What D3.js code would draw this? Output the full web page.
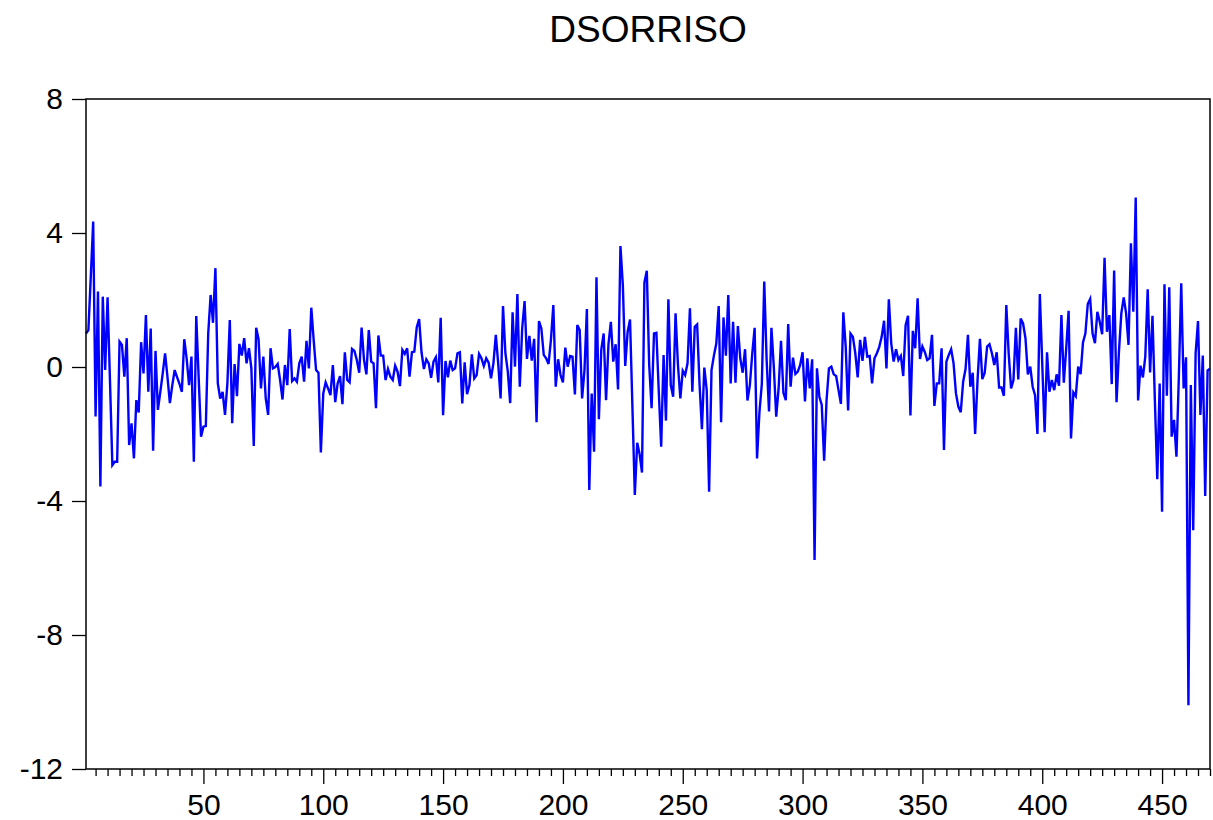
<!DOCTYPE html>
<html>
<head>
<meta charset="utf-8">
<script src="https://cdn.jsdelivr.net/npm/d3@7"></script>
<style>
  body { margin: 0; background: #fff; }
  svg text { font-family: "Liberation Sans", Arial, sans-serif; }
</style>
</head>
<body>
<svg id="chart" width="1213" height="820"></svg>
<script>
const seriesName = "DSORRISO";
const dsorriso = [
  1.0, 1.1, 2.7, 4.34, -1.48, 2.25, -3.57, 2.1, -0.09, 2.08,
  -0.4, -2.93, -2.83, -2.83, 0.76, 0.66, -0.29, 0.86, -2.33, -1.68,
  -2.73, -0.99, -1.36, 0.74, -0.19, 1.55, -0.74, 1.15, -2.5, 0.48,
  -1.28, -0.75, -0.2, 0.41, -0.3, -1.08, -0.55, -0.09, -0.3, -0.5,
  -0.74, 0.83, 0.25, -0.54, 0.31, -2.83, 1.52, -0.3, -2.08, -1.78,
  -1.76, 1.0, 2.15, 1.32, 2.95, -0.49, -0.94, -0.74, -1.43, -0.49,
  1.4, -1.68, 0.09, -0.87, 0.69, 0.34, 0.86, 0.11, 0.56, -0.04,
  -2.36, 1.17, 0.83, -0.64, 0.31, -0.94, -1.43, 0.56, -0.04, 0.0,
  0.09, -0.4, -0.97, 0.06, -0.54, 1.13, -0.42, -0.34, -0.44, 0.11,
  0.31, -0.44, 0.78, -0.04, 1.77, 0.8, -0.09, -0.17, -2.55, -0.79,
  -0.46, -0.64, -0.84, 0.06, -1.05, -0.49, -0.27, -1.11, 0.44, -0.39,
  -0.46, 0.54, 0.48, 0.21, -0.17, 1.18, 0.21, -0.22, 1.1, 0.16,
  0.11, -1.23, 0.94, 0.34, 0.34, -0.39, -0.06, -0.29, -0.39, 0.04,
  -0.14, -0.57, 0.51, 0.39, 0.56, -0.29, 0.44, 0.46, 1.18, 1.43,
  0.44, -0.06, 0.23, 0.11, -0.32, 0.16, 0.29, -0.46, 1.47, -1.44,
  0.18, -0.31, 0.19, -0.09, -0.04, 0.41, 0.44, -1.09, 0.14, -0.81,
  -0.54, 0.38, -0.34, -0.24, 0.39, 0.26, 0.03, 0.26, 0.13, -0.34,
  0.11, 0.96, 0.1, -0.94, 1.82, 0.41, -0.14, -1.08, 1.63, 0.01,
  2.18, -0.59, 1.15, 1.97, 0.24, 0.93, 0.19, 0.84, -1.65, 1.37,
  1.15, 0.36, 0.26, 0.09, 0.81, 1.85, -0.59, 0.23, -0.24, -0.46,
  0.58, 0.01, 0.33, 0.31, -0.82, 1.25, 1.1, -0.94, -0.09, 1.73,
  -3.67, -0.79, -2.53, 2.68, -1.56, 0.51, 1.0, -0.99, 0.68, 1.35,
  0.16, 0.68, -0.67, 3.61, 2.45, 0.03, 1.05, 1.42, -1.2, -3.82,
  -2.26, -2.6, -3.15, 2.52, 2.87, 0.06, -1.23, 1.0, 1.02, -0.74,
  -2.38, 0.36, -1.6, 2.02, -0.54, -0.89, 1.6, 0.06, -0.94, -0.11,
  -0.24, 0.11, 1.75, -0.74, 1.2, 1.27, -0.5, -1.86, -0.02, -0.69,
  -3.72, -0.09, 0.34, 0.7, 1.82, -1.65, 1.48, 0.34, 2.15, -0.49,
  1.35, -0.47, 1.22, 0.26, -0.17, 0.53, -1.0, -0.54, 0.4, 1.17,
  -2.73, -1.35, -0.5, 2.55, 0.21, -1.33, 1.17, 0.0, -1.48, -0.64,
  0.78, -0.77, -0.99, 1.28, -0.59, 0.28, -0.21, -0.14, 0.06, 0.44,
  -1.03, 0.26, -0.64, 0.23, -5.76, -0.04, -0.89, -1.13, -2.8, -1.0,
  -0.04, 0.01, -0.22, -0.27, -0.69, -1.1, 1.63, 0.6, -1.3, 1.0,
  0.9, 0.41, -0.31, 0.81, 0.18, 0.9, 0.31, 0.33, -0.49, 0.26,
  0.41, 0.6, 0.9, 1.38, -0.04, 2.02, 0.7, 0.16, 0.53, 0.21,
  0.33, -0.27, 1.25, 1.53, -1.45, 1.08, 0.56, 2.05, 0.24, 0.61,
  0.45, 0.21, 0.26, 0.96, -1.16, -0.49, -0.49, 0.56, -2.48, 0.16,
  0.36, 0.53, 0.11, -0.79, -1.18, -1.35, -0.44, -0.06, 0.96, -0.59,
  -0.17, -2.0, -0.4, 0.84, -0.36, -0.17, 0.61, 0.68, 0.41, 0.06,
  0.44, -0.61, -0.61, -0.86, 1.85, 0.4, -0.64, -0.39, 1.17, -0.37,
  1.45, 1.3, 0.86, -0.22, 0.01, -0.59, -0.84, -2.0, 2.18, 0.1,
  -1.95, 0.44, -0.74, -0.39, -0.69, -0.22, -0.56, 1.55, -0.47, 0.55,
  1.68, -2.13, -0.76, -0.87, 0.01, -0.21, 0.73, 1.0, 1.88, 2.03,
  1.0, 0.71, 1.65, 1.35, 0.98, 3.26, 1.05, 1.55, -0.51, 2.88,
  -1.05, 0.45, 1.6, 2.08, 1.6, 0.66, 3.69, 1.65, 5.06, -1.0,
  0.04, -0.31, 0.31, 2.32, -0.16, 1.53, -1.0, -3.35, -0.49, -4.32,
  2.47, -0.86, 2.38, -2.08, -1.58, -2.68, -0.3, 2.5, -0.64, 0.29,
  -10.1, -0.54, -4.87, 0.41, 1.37, -1.43, 0.34, -3.85, -0.1, -0.05
];
const yTicks = [8, 4, 0, -4, -8, -12];
const xMajorTicks = [50, 100, 150, 200, 250, 300, 350, 400, 450];

var svg = d3.select("#chart");
const plotLeft = 86, plotRight = 1210, plotTop = 99, plotBottom = 769;

var x = d3.scaleLinear().domain([1, dsorriso.length]).range([plotLeft, plotRight]);
var y = d3.scaleLinear().domain([-12, 8]).range([plotBottom, plotTop]);

// title
svg.append("text")
    .attr("x", 648)
    .attr("y", 42)
    .attr("text-anchor", "middle")
    .style("font-size", "37px")
    .text(seriesName);

// minor x ticks every 5 obs
var minor = d3.range(5, dsorriso.length + 1, 5).filter(function(d) { return xMajorTicks.indexOf(d) < 0; });
svg.append("g")
    .attr("transform", `translate(0,${plotBottom})`)
    .call(d3.axisBottom(x).tickValues(minor).tickSize(7).tickFormat(""))
    .call(g => g.select(".domain").remove())
    .selectAll("line").attr("stroke", "#000").attr("stroke-width", 1.3);

var xAxis = svg.append("g")
    .attr("transform", `translate(0,${plotBottom})`)
    .call(d3.axisBottom(x).tickValues(xMajorTicks).tickSize(15).tickPadding(10)
        .tickFormat(function(d) { return String(d); }));
xAxis.select(".domain").remove();
xAxis.selectAll("line").attr("stroke", "#000").attr("stroke-width", 1.3);
xAxis.selectAll("text").style("font-size", "30px").attr("fill", "#000")
    .style("font-family", "Liberation Sans, Arial, sans-serif");

// plain hyphen for negatives, like the original
var yAxis = svg.append("g")
    .attr("transform", `translate(${plotLeft},0)`)
    .call(d3.axisLeft(y).tickValues(yTicks).tickSize(14).tickPadding(9)
        .tickFormat(function(d) { return String(d); }));
yAxis.select(".domain").remove();
yAxis.selectAll("line").attr("stroke", "#000").attr("stroke-width", 1.3);
yAxis.selectAll("text").style("font-size", "30px").attr("fill", "#000")
    .style("font-family", "Liberation Sans, Arial, sans-serif");

// the series
var line = d3.line()
    .x(function(d, i) { return x(i + 1); })
    .y(function(d) { return y(d); });

svg.append("path")
    .datum(dsorriso)
    .attr("d", line)
    .attr("fill", "none")
    .attr("stroke", "#0000ff")
    .attr("stroke-width", 2.4)
    .attr("stroke-linejoin", "miter");

// frame
svg.append("rect")
    .attr("x", plotLeft)
    .attr("y", plotTop)
    .attr("width", plotRight - plotLeft)
    .attr("height", plotBottom - plotTop)
    .attr("fill", "none")
    .attr("stroke", "#000")
    .attr("stroke-width", 1.5);
</script>
</body>
</html>
